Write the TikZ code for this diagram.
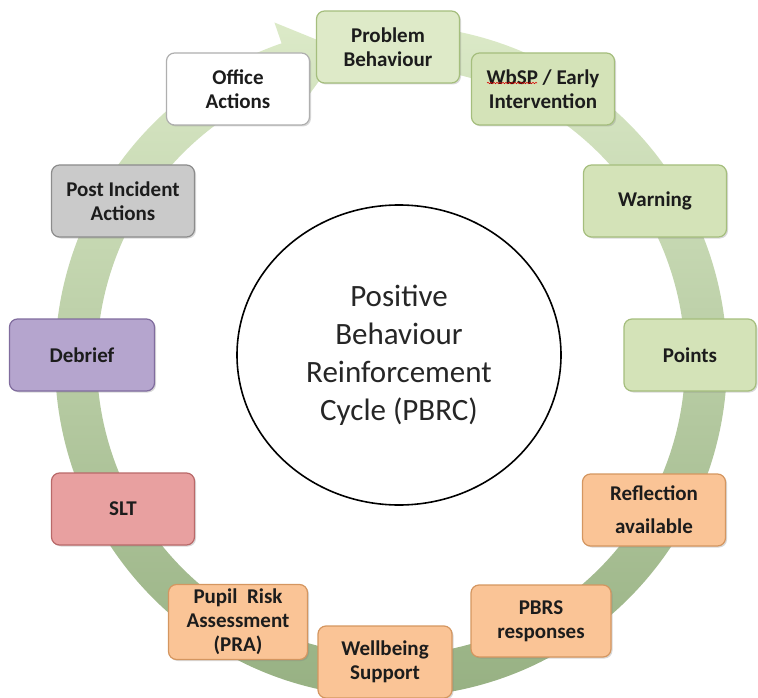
\documentclass[tikz,border=0pt]{standalone}
\usepackage{fontspec}
\setmainfont{Carlito}
\usetikzlibrary{positioning,shapes.geometric,shadows,calc,decorations.pathmorphing}

\definecolor{ringtop}{RGB}{220,234,200}
\definecolor{ringbot}{RGB}{150,176,130}
\definecolor{grnlight}{RGB}{222,234,200}
\definecolor{grnfill}{RGB}{212,227,184}
\definecolor{grnline}{RGB}{165,190,125}
\definecolor{orgfill}{RGB}{250,196,150}
\definecolor{orgline}{RGB}{212,150,96}
\definecolor{redfill}{RGB}{232,160,160}
\definecolor{redline}{RGB}{185,105,105}
\definecolor{purfill}{RGB}{181,165,206}
\definecolor{purline}{RGB}{128,108,158}
\definecolor{gryfill}{RGB}{202,202,202}
\definecolor{gryline}{RGB}{140,140,140}
\definecolor{boxtext}{RGB}{28,28,28}

\tikzset{
  stage/.style={rectangle, rounded corners=8pt, minimum width=143pt,
    minimum height=72pt, align=center, inner sep=2pt, line width=1.2pt,
    text=boxtext, font=\fontsize{21}{24}\selectfont\bfseries,
    drop shadow={opacity=0.3, shadow xshift=1.5pt, shadow yshift=-1.5pt}},
  greenstage/.style={stage, fill=grnfill, draw=grnline},
  orangestage/.style={stage, fill=orgfill, draw=orgline},
  redstage/.style={stage, fill=redfill, draw=redline},
  purplestage/.style={stage, fill=purfill, draw=purline},
  greystage/.style={stage, fill=gryfill, draw=gryline},
  whitestage/.style={stage, fill=white, draw=gryline!70}
}

\begin{document}
\begin{tikzpicture}[x=1pt, y=-1pt]
  \useasboundingbox (0,0) rectangle (758,698);

  % cycle arrow behind the stages
  \shade[top color=ringtop, bottom color=ringbot, shift={(391,361)}]
    (-92:336) arc[start angle=-92, end angle=251, radius=336]
    -- (251:358) -- (261:315) -- (251:272) -- (251:294)
    arc[start angle=251, end angle=-92, radius=294] -- cycle;

  % centre
  \node[ellipse, draw, line width=1.6pt, fill=white, minimum width=324pt,
    minimum height=300pt, inner sep=0pt, align=center, text=black!85,
    font=\fontsize{31}{38}\selectfont] (pbrc) at (399,355)
    {Positive\\Behaviour\\Reinforcement\\Cycle (PBRC)};

  % stages, clockwise from the top
  \node[greenstage, fill=grnlight] (probbeh) at (388,47) {Problem\\Behaviour};
  \node[greenstage] (wbsp) at (543,89) {WbSP / Early\\Intervention};
  \node[greenstage] (warning) at (655,201) {Warning};
  \node[greenstage, minimum width=132pt] (points) at (690,355) {Points};
  \node[orangestage, font=\fontsize{21}{33}\selectfont\bfseries] (reflect) at (654,510) {Reflection\\available};
  \node[orangestage, minimum width=140pt] (pbrs) at (541,621) {PBRS\\responses};
  \node[orangestage, minimum width=134pt] (wellbeing) at (385,662) {Wellbeing\\Support};
  \node[orangestage, minimum width=139pt, minimum height=75pt,
    font=\fontsize{21}{24}\selectfont\bfseries] (pra) at (238,622) {Pupil\ \ Risk\\Assessment\\(PRA)};
  \node[redstage] (slt) at (123,509) {SLT};
  \node[purplestage, minimum width=145pt] (debrief) at (82,355) {Debrief};
  \node[greystage] (postinc) at (123,201) {Post Incident\\Actions};
  \node[whitestage] (office) at (238,89) {Office\\Actions};

  % spell-check squiggle under WbSP
  \draw[red!85!black, line width=0.6pt, decorate,
    decoration={snake, amplitude=0.7pt, segment length=3pt}]
    ($(wbsp.center)+(-56,-6)$) -- ($(wbsp.center)+(-6,-6)$);
\end{tikzpicture}
\end{document}
